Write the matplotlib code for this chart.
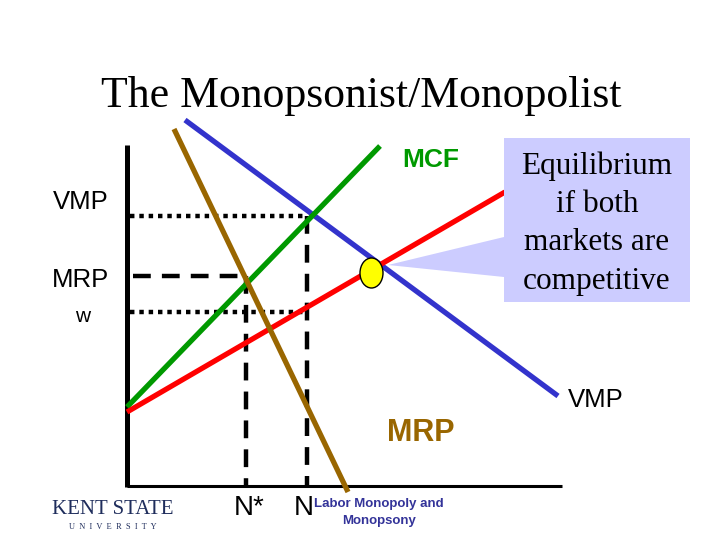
import matplotlib.pyplot as plt
from matplotlib.patches import Ellipse, Polygon, Rectangle

# curve endpoints, in slide pixel units (x right, y down)
vmp_x = [185, 558]
vmp_y = [120, 396]
mrp_x = [174, 348]
mrp_y = [129, 492]
mcf_x = [127, 380]
mcf_y = [407, 146]
w_x = [127, 505]
w_y = [412, 192]

# axes of the diagram
yaxis_x = [127, 127]
yaxis_y = [145, 487]
xaxis_x = [127, 562]
xaxis_y = [486, 486]

# guide lines
vmp_level = 216
mrp_level = 276
w_level = 312
n_star = 246
n_comp = 307

eq_point = (371.5, 273)

callout_box = (504, 138, 186, 164)
callout_lines = ["Equilibrium", "if both", "markets are", "competitive"]

plt.rcParams['font.family'] = ['Liberation Sans', 'DejaVu Sans']

fig = plt.figure(figsize=(7.2, 5.4), dpi=100)
ax = fig.add_axes([0, 0, 1, 1])
ax.set_xlim(0, 720)
ax.set_ylim(540, 0)
ax.axis('off')

# title
ax.text(361, 96, "The Monopsonist/Monopolist", ha='center', va='center',
        fontsize=31.5, family='Liberation Serif')

# axes
ax.plot(yaxis_x, yaxis_y, color='black', lw=3.6, solid_capstyle='butt')
ax.plot(xaxis_x, xaxis_y, color='black', lw=2.2, solid_capstyle='butt')

# dotted / dashed guides
ax.plot([130, n_comp], [vmp_level, vmp_level], color='black', lw=3.2, linestyle=(0, (1, 1.1)))
ax.plot([130, n_comp], [w_level, w_level], color='black', lw=3.2, linestyle=(0, (1, 1.1)))
ax.plot([133, n_star], [mrp_level, mrp_level], color='black', lw=3.2, linestyle=(0, (4, 2.5)))
ax.plot([n_star, n_star], [mrp_level, 486], color='black', lw=3.2, linestyle=(0, (4, 2.5)))
ax.plot([n_comp, n_comp], [vmp_level, 486], color='black', lw=3.2, linestyle=(0, (4, 2.5)))

# curves
ax.plot(vmp_x, vmp_y, color='#3333CC', lw=3.8, solid_capstyle='butt')
ax.plot(mcf_x, mcf_y, color='#009900', lw=3.8, solid_capstyle='butt')
ax.plot(w_x, w_y, color='#FF0000', lw=3.8, solid_capstyle='butt')
ax.plot(mrp_x, mrp_y, color='#996600', lw=3.8, solid_capstyle='butt')

# callout
tail = Polygon([(504, 237), (388, 265), (504, 277)], closed=True,
               facecolor='#CCCCFF', edgecolor='none', zorder=4)
ax.add_patch(tail)
bx, by, bw, bh = callout_box
ax.add_patch(Rectangle((bx, by), bw, bh, facecolor='#CCCCFF', edgecolor='none', zorder=4))
for i, line in enumerate(callout_lines):
    ax.text(bx + bw / 2, 166 + i * 38.5, line, ha='center', va='center',
            fontsize=22.5, family='Liberation Serif', zorder=5)

# equilibrium point
ax.add_patch(Ellipse(eq_point, 23, 30, facecolor='#FFFF00', edgecolor='black',
                     lw=1, zorder=6))

# labels
ax.text(431, 160, "MCF", color='#009900', fontsize=19, fontweight='bold',
        ha='center', va='center')
ax.text(81, 202, "VMP", fontsize=18.5, ha='center', va='center')
ax.text(81, 280, "MRP", fontsize=18.5, ha='center', va='center')
ax.text(83, 316, "w", fontsize=15, ha='center', va='center')
ax.text(596, 400, "VMP", fontsize=18.5, ha='center', va='center')
ax.text(421, 433, "MRP", color='#996600', fontsize=22, fontweight='bold',
        ha='center', va='center')
ax.text(249, 508, "N*", fontsize=20, ha='center', va='center')
ax.text(304, 508, "N", fontsize=20, ha='center', va='center')
ax.text(379, 504, "Labor Monopoly and", color='#333399', fontsize=9.5,
        fontweight='bold', ha='center', va='center')
ax.text(379, 521, "Monopsony", color='#333399', fontsize=9.5,
        fontweight='bold', ha='center', va='center')

# logo
ax.text(113, 509, "KENT STATE", color='#1F2D5C', fontsize=15,
        family='Liberation Serif', ha='center', va='center')
ax.text(113, 527, "U  N  I  V  E  R  S  I  T  Y", color='#1F2D5C', fontsize=6,
        family='Liberation Serif', ha='center', va='center')

fig.savefig('out.png', dpi=100)
